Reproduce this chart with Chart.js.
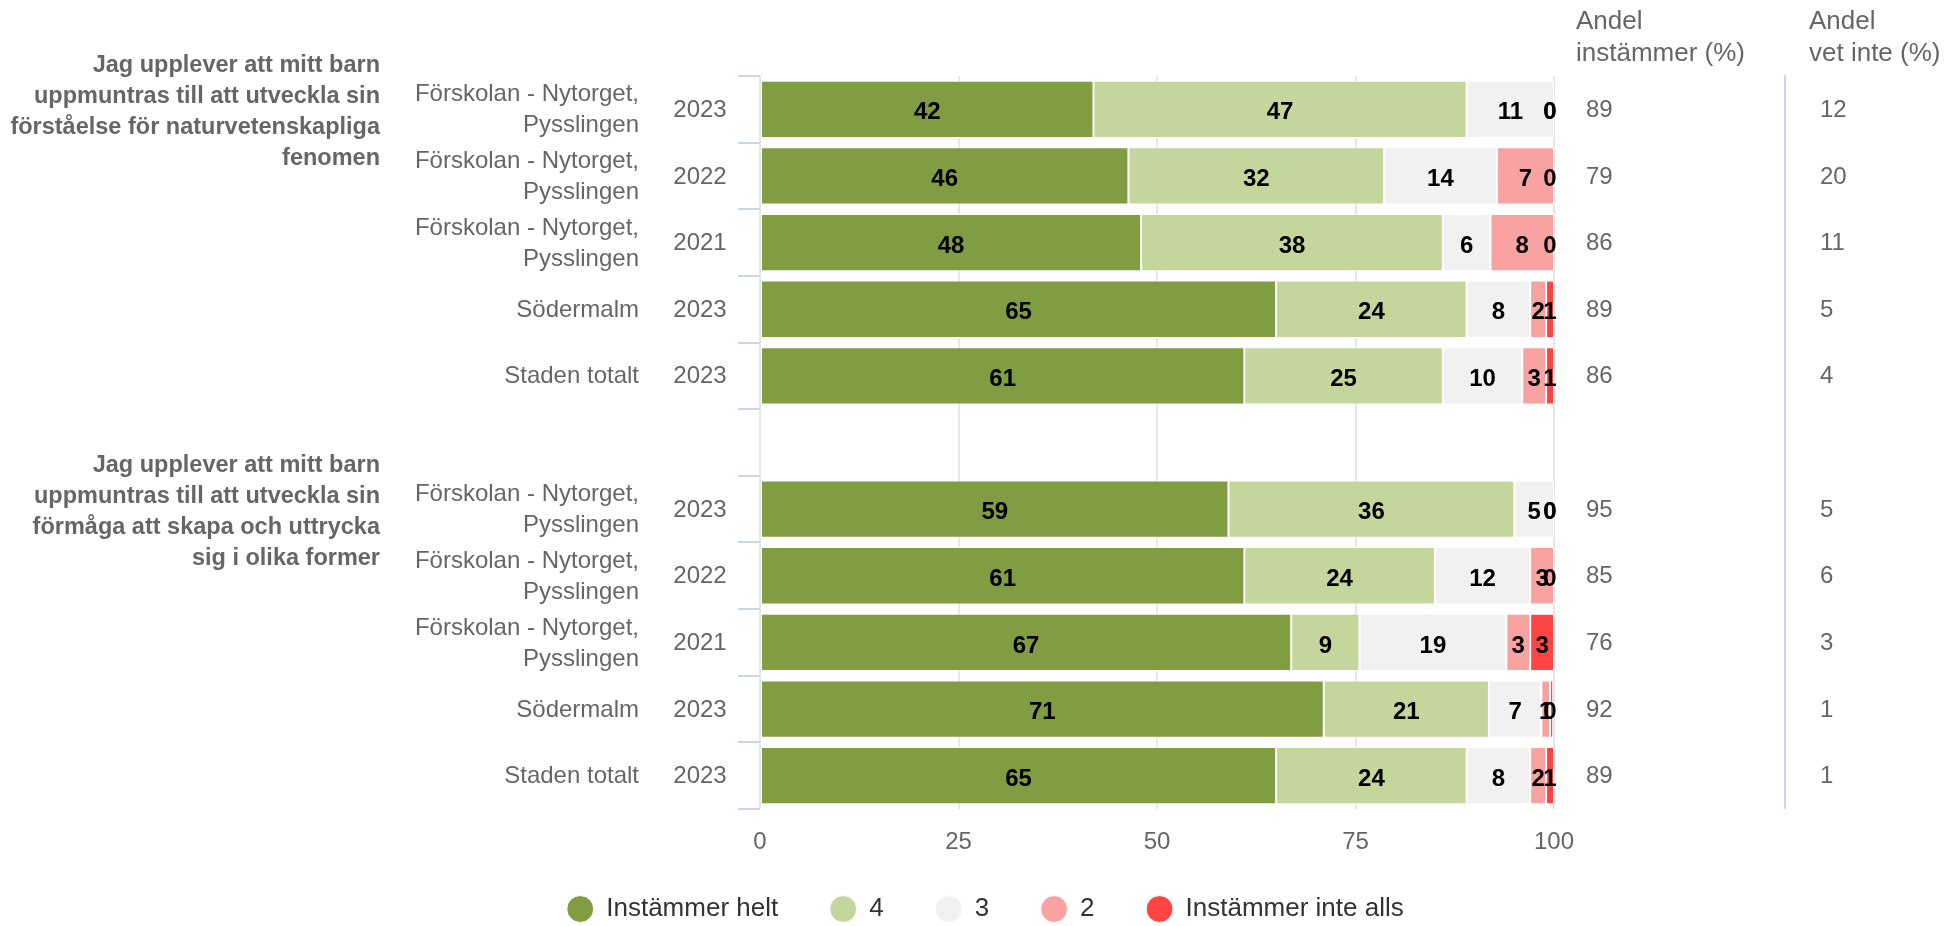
<!DOCTYPE html>
<html lang="sv">
<head>
<meta charset="utf-8">
<title>Instämmer – förskolan</title>
<script src="https://cdn.jsdelivr.net/npm/chart.js@4"></script>
<style>
  html, body { margin: 0; padding: 0; background: #fff; }
  #wrap { width: 1944px; height: 926px; position: relative; }
</style>
</head>
<body>
<div id="wrap"><canvas id="diagram"></canvas></div>
<script>
// Frågorna (grupprubriker till vänster)
const fragor = [
    ['Jag upplever att mitt barn', 'uppmuntras till att utveckla sin', 'förståelse för naturvetenskapliga', 'fenomen'],
    ['Jag upplever att mitt barn', 'uppmuntras till att utveckla sin', 'förmåga att skapa och uttrycka', 'sig i olika former']
];
// Enheter och år, samma ordning under varje fråga
const enheter = [
    ['Förskolan - Nytorget,', 'Pysslingen'],
    ['Förskolan - Nytorget,', 'Pysslingen'],
    ['Förskolan - Nytorget,', 'Pysslingen'],
    ['Södermalm'],
    ['Staden totalt']
];
const ar = ['2023', '2022', '2021', '2023', '2023'];

const serier = ['Instämmer helt', '4', '3', '2', 'Instämmer inte alls'];
const farger = ['#809d42', '#c4d69c', '#f1f1f1', '#f9a2a2', '#ff4444'];

// Procent per rad. Index 5 är tomraden mellan frågorna.
const helt     = [42, 46.4, 48, 65, 61, null, 59, 61, 66.9, 71, 65];
const fyra     = [47, 32.2, 38, 24, 25, null, 36, 24, 8.6, 20.8, 24];
const tre      = [11, 14.2, 6, 8, 10, null, 5, 12, 18.5, 6.6, 8];
const tva      = [0, 7.2, 8, 2, 3, null, 0, 3, 3, 1.1, 2];
const inteAlls = [0, 0, 0, 1, 1, null, 0, 0, 3, 0.4, 1];

const kolumnRubriker = [['Andel', 'instämmer (%)'], ['Andel', 'vet inte (%)']];
const andelInstammer = [89, 79, 86, 89, 86, null, 95, 85, 76, 92, 89];
const andelVetInte   = [12, 20, 11, 5, 4, null, 5, 6, 3, 1, 1];

const xTicks = [0, 25, 50, 75, 100];

const FONT = '"Liberation Sans", Arial, Helvetica, sans-serif';
Chart.defaults.font.family = FONT;

// rader: en per enhet och fråga, med en tom rad emellan
const rader = [];
fragor.forEach((f, g) => {
    if (g > 0) rader.push(null);
    enheter.forEach((e, k) => rader.push({ fraga: g, enhet: e, ar: ar[k] }));
});
const kategorier = rader.map(r => r ? r.enhet.join(' ') + ' ' + r.ar : '');

const varden = [helt, fyra, tre, tva, inteAlls];

// Värdeetiketter mitt i varje stapeldel
const vardeEtiketter = {
    id: 'vardeEtiketter',
    afterLayout(chart) {
        // låt x-axelns etiketter få plats under axeln (annars klipps de)
        const x = chart.scales.x;
        x.bottom = x.top + 50;
    },
    afterDatasetsDraw(chart) {
        const { ctx, chartArea } = chart;
        ctx.save();
        ctx.font = 'bold 24px ' + FONT;
        ctx.fillStyle = '#000';
        ctx.textAlign = 'center';
        ctx.textBaseline = 'middle';
        chart.data.datasets.forEach((ds, i) => {
            chart.getDatasetMeta(i).data.forEach((bar, j) => {
                const v = ds.data[j];
                if (v === null || v === undefined) return;
                const txt = String(Math.round(v));
                const w = ctx.measureText(txt).width;
                let cx = (bar.x + bar.base) / 2;
                cx = Math.min(cx, chartArea.right + 2.5 - w / 2);
                ctx.fillText(txt, cx, bar.y + 3.5);
            });
        });
        ctx.restore();
    }
};

// Texter runt diagrammet: frågor, enheter, år och de två kolumnerna till höger
const sidotexter = {
    id: 'sidotexter',
    afterDraw(chart) {
        const { ctx, chartArea, scales: { y } } = chart;
        const band = y.getPixelForValue(1) - y.getPixelForValue(0);
        const left = chartArea.left;
        const right = chartArea.right;
        ctx.save();
        ctx.textBaseline = 'middle';

        // frågor
        ctx.font = 'bold 23.5px ' + FONT;
        ctx.fillStyle = '#666';
        ctx.textAlign = 'right';
        fragor.forEach((rubrik, g) => {
            const forsta = rader.findIndex(r => r && r.fraga === g);
            const topp = y.getPixelForValue(forsta) - band / 2;
            rubrik.forEach((rad, k) => ctx.fillText(rad, left - 380, topp - 10.5 + k * 31));
        });

        // enheter och år
        ctx.font = '24px ' + FONT;
        rader.forEach((r, i) => {
            if (!r) return;
            const cy = y.getPixelForValue(i) + 1;
            ctx.textAlign = 'right';
            const n = r.enhet.length;
            r.enhet.forEach((rad, k) => ctx.fillText(rad, left - 121, cy + (k - (n - 1) / 2) * 31));
            ctx.textAlign = 'center';
            ctx.fillText(r.ar, left - 60, cy);
        });

        // kolumner till höger
        const kolX = [right + 22, right + 255];
        const vardeX = [right + 32, right + 266];
        ctx.textAlign = 'left';
        ctx.font = '26px ' + FONT;
        kolumnRubriker.forEach((rub, c) => {
            rub.forEach((rad, k) => ctx.fillText(rad, kolX[c], 22 + k * 32));
        });
        ctx.font = '24px ' + FONT;
        [andelInstammer, andelVetInte].forEach((kol, c) => {
            kol.forEach((v, i) => {
                if (v === null) return;
                ctx.fillText(String(v), vardeX[c], y.getPixelForValue(i) + 1);
            });
        });

        // skiljelinje mellan kolumnerna
        ctx.strokeStyle = '#ccd6eb';
        ctx.lineWidth = 2;
        ctx.beginPath();
        ctx.moveTo(right + 231, chartArea.top - 1);
        ctx.lineTo(right + 231, chartArea.bottom);
        ctx.stroke();
        ctx.restore();
    }
};

new Chart(document.getElementById('diagram'), {
    type: 'bar',
    data: {
        labels: kategorier,
        datasets: serier.map((namn, i) => ({
            label: namn,
            data: varden[i],
            backgroundColor: farger[i],
            borderColor: '#ffffff',
            borderWidth: 1,
            borderSkipped: false,
            categoryPercentage: 1,
            barPercentage: 0.86
        }))
    },
    options: {
        indexAxis: 'y',
        responsive: true,
        maintainAspectRatio: false,
        animation: false,
        events: [],
        layout: { padding: { left: 27, right: 0, top: 76, bottom: -6 } },
        scales: {
            x: {
                stacked: true,
                min: 0,
                max: 100,
                afterBuildTicks: s => { s.ticks = xTicks.map(v => ({ value: v })); },
                afterFit: s => { s.height = 35; },
                grid: { color: '#e6e6e6', lineWidth: 2, drawTicks: false },
                border: { display: false },
                ticks: { color: '#666', font: { size: 24 }, padding: 19 }
            },
            y: {
                stacked: true,
                afterFit: s => { s.width = 733; },
                grid: {
                    offset: true,
                    drawOnChartArea: false,
                    drawTicks: true,
                    tickLength: 22,
                    color: '#ccd6eb',
                    lineWidth: 2
                },
                border: { display: false },
                ticks: { display: false }
            },
            yHoger: {
                type: 'category',
                axis: 'y',
                position: 'right',
                afterFit: s => { s.width = 390; },
                grid: { display: false, drawTicks: false },
                border: { display: false },
                ticks: { display: false }
            }
        },
        plugins: {
            legend: {
                position: 'bottom',
                labels: {
                    usePointStyle: true,
                    pointStyle: 'circle',
                    boxHeight: 19,
                    padding: 52,
                    color: '#333',
                    font: { size: 26 }
                }
            },
            tooltip: { enabled: false }
        }
    },
    plugins: [vardeEtiketter, sidotexter]
});
</script>
</body>
</html>
